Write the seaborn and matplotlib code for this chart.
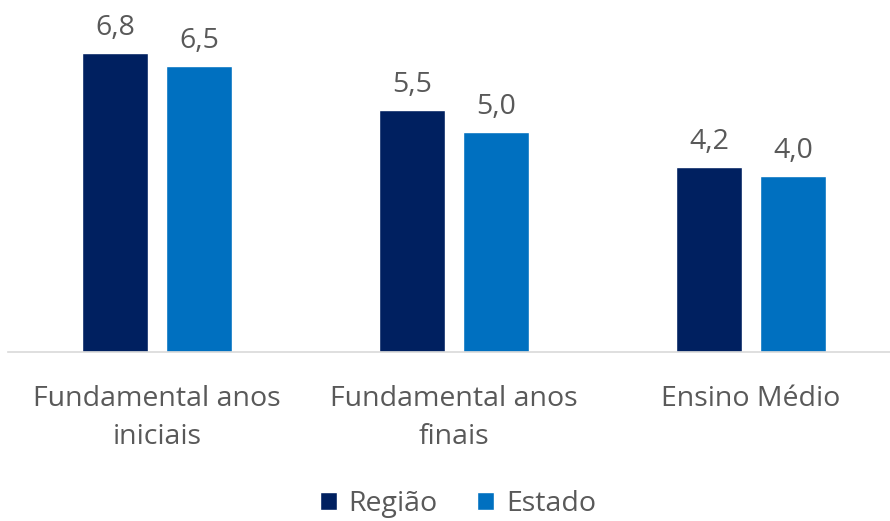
import pandas as pd
import matplotlib.pyplot as plt
import seaborn as sns

categorias = ["Fundamental anos\niniciais", "Fundamental anos\nfinais", "Ensino Médio"]
regiao = [6.8, 5.5, 4.2]
estado = [6.5, 5.0, 4.0]
series = ["Região", "Estado"]

df = pd.DataFrame({
    "categoria": categorias * 2,
    "valor": regiao + estado,
    "serie": [series[0]] * 3 + [series[1]] * 3,
})

sns.set_theme(style="white")
plt.rcParams["font.family"] = ["Open Sans", "DejaVu Sans"]
cinza = "#595959"

fig = plt.figure(figsize=(8.9, 5.21), dpi=100)
ax = fig.add_axes([0.009, 0.3244, 0.991, 0.6756])

sns.barplot(data=df, x="categoria", y="valor", hue="serie",
            palette=["#002060", "#0070C0"], width=0.566, gap=0.214,
            saturation=1, ax=ax, legend=True)

for c in ax.containers:
    ax.bar_label(c, labels=[f"{v:.1f}".replace(".", ",") for v in c.datavalues],
                 padding=8, fontsize=20.5, color=cinza)

ax.set_ylim(0, 8.0)
ax.set_xlim(-0.502, 2.468)
ax.set_xlabel("")
ax.set_ylabel("")
ax.set_yticks([])
for s in ["top", "left", "right"]:
    ax.spines[s].set_visible(False)
ax.spines["bottom"].set_color("#d9d9d9")
ax.spines["bottom"].set_linewidth(1.2)
ax.tick_params(axis="x", length=0, pad=24, labelsize=20.5, labelcolor=cinza)
for lbl in ax.get_xticklabels():
    lbl.set_linespacing(1.45)

leg = ax.legend(loc="lower center", bbox_to_anchor=(0.51, -0.545), ncol=2,
                frameon=False, fontsize=20.5, handlelength=0.6, handleheight=0.6,
                handletextpad=0.4, columnspacing=1.4)
for t in leg.get_texts():
    t.set_color(cinza)

fig.savefig("out.png", dpi=100)
